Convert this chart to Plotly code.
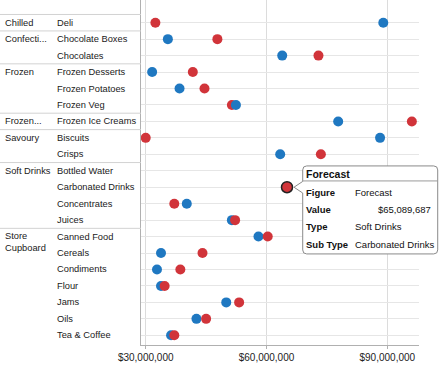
import plotly.graph_objects as go

# ---------------- data ----------------
sub_types = ["Deli", "Chocolate Boxes", "Chocolates", "Frozen Desserts", "Frozen Potatoes",
             "Frozen Veg", "Frozen Ice Creams", "Biscuits", "Crisps", "Bottled Water",
             "Carbonated Drinks", "Concentrates", "Juices", "Canned Food", "Cereals",
             "Condiments", "Flour", "Jams", "Oils", "Tea & Coffee"]
types = ["Chilled", "Confecti...", "Confecti...", "Frozen", "Frozen", "Frozen", "Frozen...",
         "Savoury", "Savoury", "Soft Drinks", "Soft Drinks", "Soft Drinks", "Soft Drinks",
         "Store Cupboard", "Store Cupboard", "Store Cupboard", "Store Cupboard",
         "Store Cupboard", "Store Cupboard", "Store Cupboard"]
type_labels = {"Store Cupboard": "Store<br>Cupboard"}

actual = [89.0e6, 35.5e6, 63.9e6, 31.6e6, 38.4e6, 52.4e6, 77.8e6, 88.2e6, 63.4e6, None,
          None, 40.2e6, 51.4e6, 58.0e6, 33.8e6, 32.8e6, 33.8e6, 50.0e6, 42.6e6, 36.3e6]
forecast = [32.4e6, 47.8e6, 72.9e6, 41.7e6, 44.6e6, 51.4e6, 96.1e6, 30.0e6, 73.5e6, None,
            65089687, 37.1e6, 52.2e6, 60.3e6, 44.1e6, 38.6e6, 34.7e6, 53.2e6, 45.0e6, 37.1e6]

tick_vals = [30e6, 60e6, 90e6]
tick_text = ["$30,000,000", "$60,000,000", "$90,000,000"]
x_range = [28.83e6, 97.87e6]
y_range = [19.59, -1.38]

highlight_index = 10  # Carbonated Drinks forecast

# ---------------- style ----------------
BLUE = "#1f78c1"
RED = "#d1343a"
FONT = "Tahoma, 'Liberation Sans', Arial, sans-serif"
W, H = 440, 370
ML, MR, MT, MB = 141, 21, 0, 25
PW = W - ML - MR

n = len(sub_types)
rows = list(range(n))

# combine points so that the right-most dot of each row is drawn on top
pts = []
for i in rows:
    for v, c in ((actual[i], BLUE), (forecast[i], RED)):
        if v is not None:
            pts.append((v, i, c))
pts.sort(key=lambda p: p[0])

fig = go.Figure()
fig.add_trace(go.Scatter(
    x=[p[0] for p in pts], y=[p[1] for p in pts], mode="markers",
    marker=dict(size=10, color=[p[2] for p in pts], line=dict(width=0)),
    hoverinfo="skip", showlegend=False))

hx = forecast[highlight_index]
fig.add_trace(go.Scatter(
    x=[hx], y=[highlight_index], mode="markers",
    marker=dict(size=11, color=RED, line=dict(width=1.5, color="#222222")),
    hoverinfo="skip", showlegend=False))

shapes = []
annotations = []


def px_to_paper(px):
    return (px - ML) / PW


LABEL_FONT = dict(family=FONT, size=9.3, color="#1a1a1a")
seen = set()
for i, (t, s) in enumerate(zip(types, sub_types)):
    annotations.append(dict(x=px_to_paper(55), y=i, xref="paper", yref="y", text=s,
                            showarrow=False, xanchor="left", yanchor="middle",
                            font=LABEL_FONT))
    if t not in seen:
        seen.add(t)
        lbl = type_labels.get(t, t)
        if "<br>" in lbl:
            annotations.append(dict(x=px_to_paper(3), y=i, xref="paper", yref="y", text=lbl,
                                    showarrow=False, xanchor="left", yanchor="top", yshift=8,
                                    align="left", font=LABEL_FONT))
        else:
            annotations.append(dict(x=px_to_paper(3), y=i, xref="paper", yref="y", text=lbl,
                                    showarrow=False, xanchor="left", yanchor="middle",
                                    font=LABEL_FONT))
        shapes.append(dict(type="line", xref="paper", yref="y", x0=px_to_paper(0), x1=0,
                           y0=i - 0.5, y1=i - 0.5, line=dict(color="#d2d2d2", width=1)))

# tooltip anchored at the highlighted point (paper anchor so it is not clipped)
ax_p = (hx - x_range[0]) / (x_range[1] - x_range[0])
ay_p = (y_range[0] - highlight_index) / (y_range[0] - y_range[1])
L, R, T, B, r = 15.7, 150.7, 21.3, -66.7, 4
path = (f"M{L+r},{T} H{R-r} Q{R},{T} {R},{T-r} V{B+r} Q{R},{B} {R-r},{B} H{L+r} "
        f"Q{L},{B} {L},{B+r} V-5.8 L7,0 L{L},5.8 V{T-r} Q{L},{T} {L+r},{T} Z")
shapes.append(dict(type="path", xref="paper", yref="paper", xsizemode="pixel", ysizemode="pixel",
                   xanchor=ax_p, yanchor=ay_p, path=path,
                   fillcolor="white", line=dict(color="#8a8a8a", width=1)))
shapes.append(dict(type="line", xref="paper", yref="paper", xsizemode="pixel", ysizemode="pixel",
                   xanchor=ax_p, yanchor=ay_p, x0=L, x1=R, y0=6.3, y1=6.3,
                   line=dict(color="#9a9a9a", width=1)))


def tip(text, dx, dy, bold=False, anchor="left", size=9.5):
    annotations.append(dict(x=hx, y=highlight_index, xref="x", yref="y", text=text,
                            showarrow=False, xanchor=anchor, yanchor="middle",
                            xshift=dx, yshift=dy,
                            font=dict(family=FONT, size=size, color="#111",
                                      weight="bold" if bold else "normal")))


tip("Forecast", 17, 13.5, bold=True, size=10.5)
rows_tt = [("Figure", "Forecast"), ("Value", f"${hx:,.0f}"),
           ("Type", types[highlight_index]), ("Sub Type", sub_types[highlight_index])]
for (key, val), dy in zip(rows_tt, [-5, -22, -39.7, -57]):
    tip(key, 17, dy, bold=True)
    if key == "Value":
        tip(val, 146, dy, anchor="right")
    else:
        tip(val, 66, dy)

fig.update_layout(
    width=W, height=H,
    margin=dict(l=ML, r=MR, t=MT, b=MB),
    paper_bgcolor="white", plot_bgcolor="white",
    showlegend=False,
    xaxis=dict(range=x_range, tickvals=tick_vals, ticktext=tick_text,
               showgrid=True, gridcolor="#dcdcdc", gridwidth=1, zeroline=False,
               showline=True, linecolor="#b0b0b0", linewidth=1,
               ticks="outside", ticklen=3, tickcolor="#b0b0b0",
               tickfont=dict(family=FONT, size=10, color="#222")),
    yaxis=dict(range=y_range, tickvals=rows, showticklabels=False,
               showgrid=True, gridcolor="#e6e6e6", gridwidth=1, zeroline=False,
               showline=True, linecolor="#b0b0b0", linewidth=1, ticks=""),
    shapes=shapes, annotations=annotations,
)

fig.write_html("out.html", config={"displayModeBar": False},
               post_script="document.body.style.margin='0';")
